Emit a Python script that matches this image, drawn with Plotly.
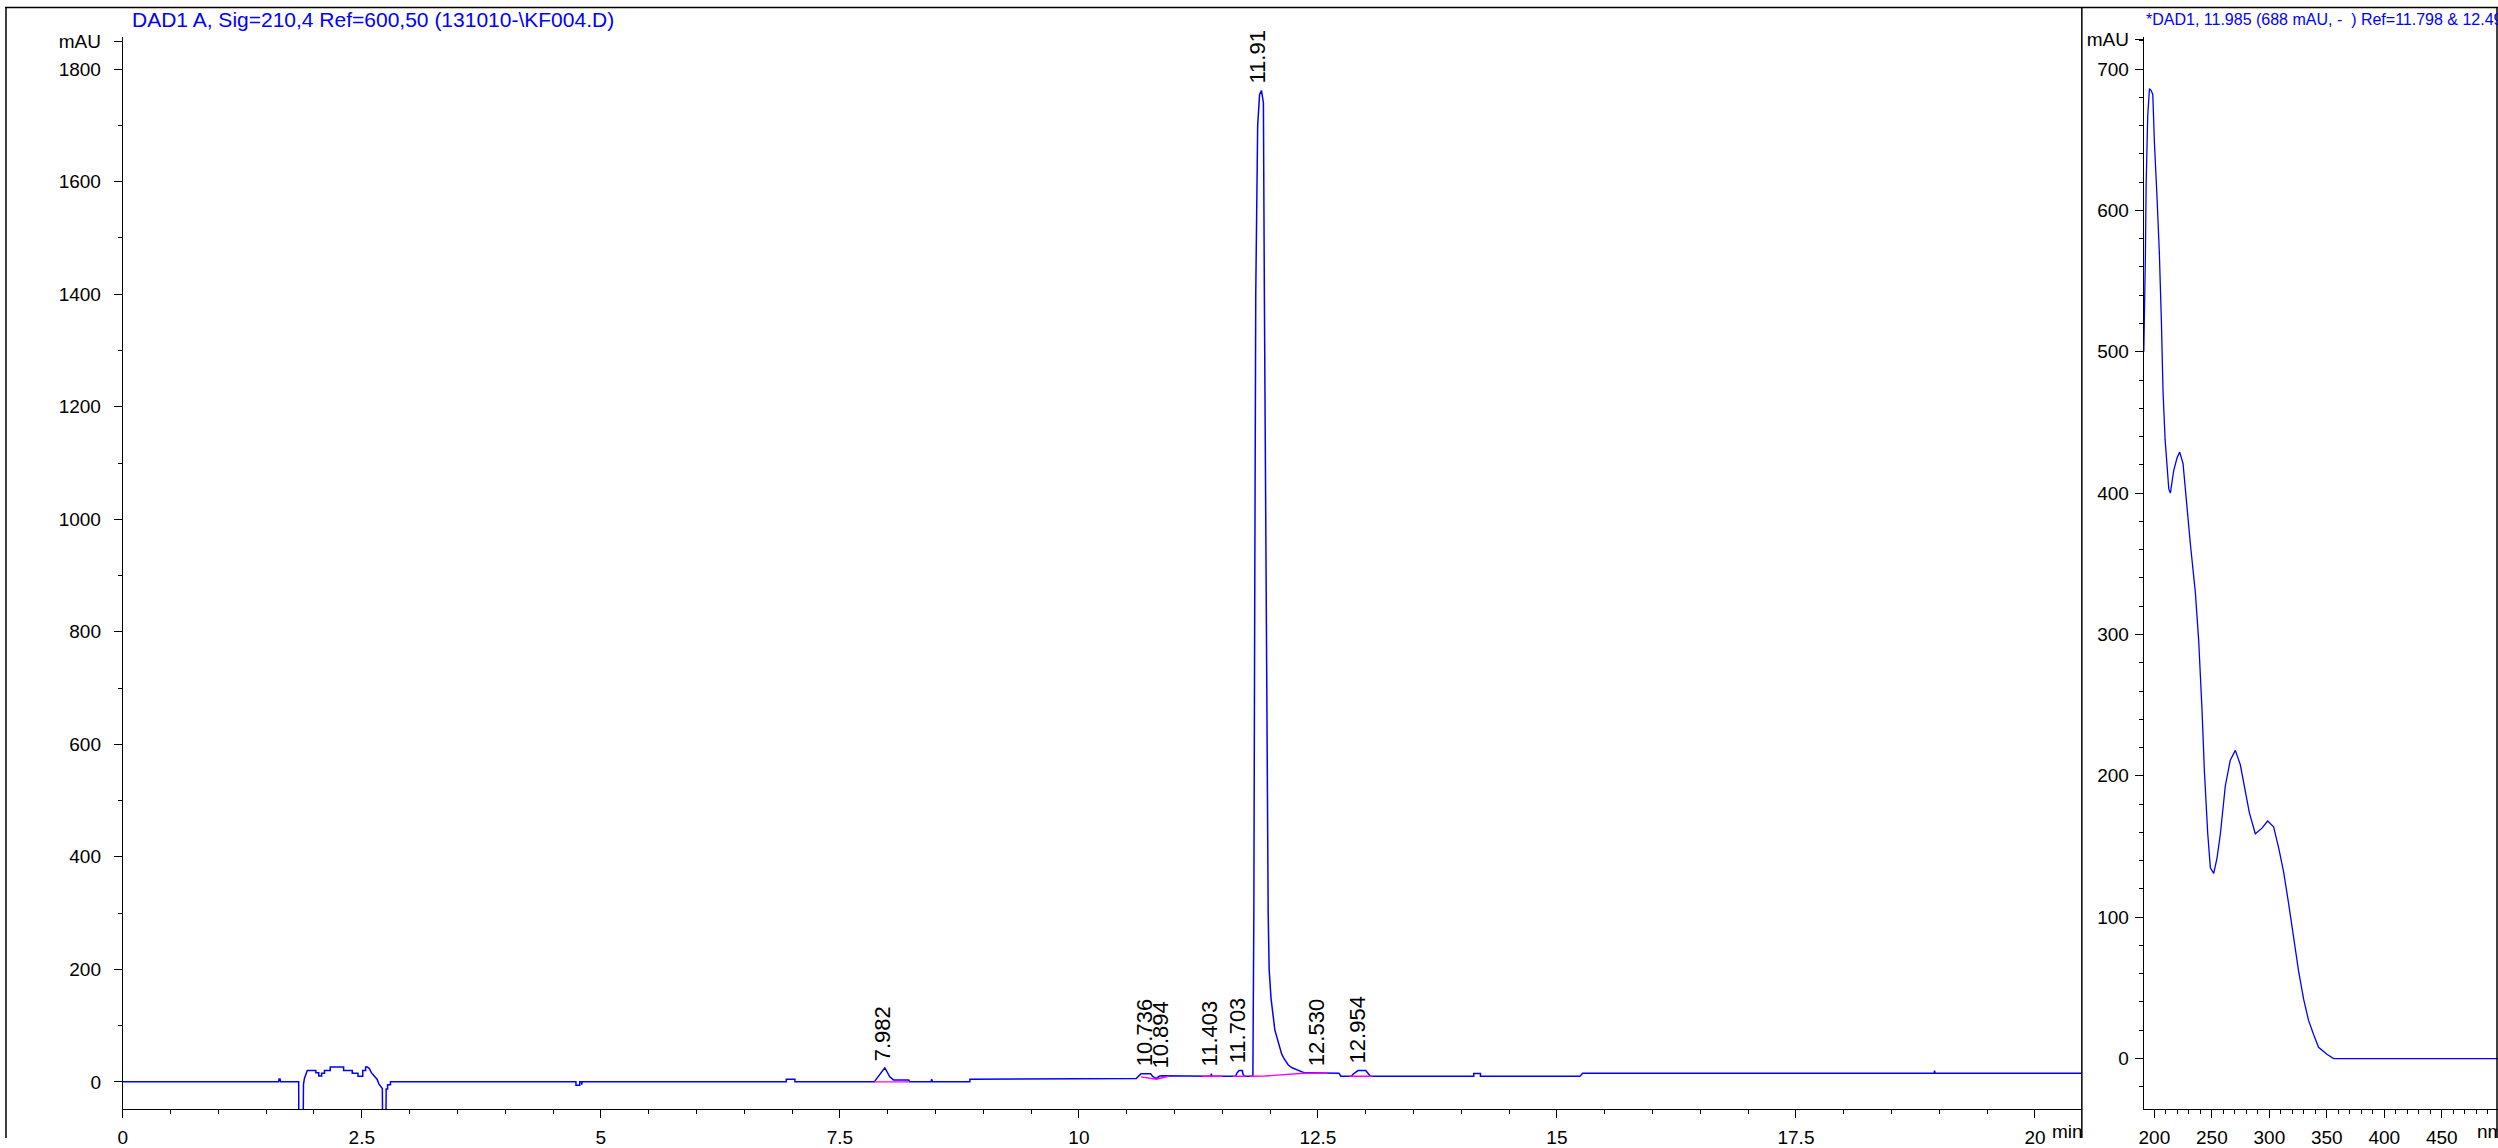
import plotly.graph_objects as go

W, H = 2498, 1148

# ---------------- data ----------------
# chromatogram (DAD1 A, 210 nm)
chrom_time = [0.00, 1.63, 1.635, 1.645, 1.65, 1.84, 1.842, 1.885, 1.89, 1.90, 1.93, 2.02, 2.02, 2.05, 2.05,
              2.08, 2.08, 2.11, 2.11, 2.17, 2.17, 2.31, 2.31, 2.40, 2.40, 2.46, 2.46, 2.51, 2.51, 2.54,
              2.54, 2.56, 2.58, 2.60, 2.63, 2.66, 2.68, 2.70, 2.715, 2.72, 2.75, 2.755, 2.77, 2.77, 2.80,
              2.80, 4.74, 4.74, 4.78, 4.78, 4.80, 4.80, 4.805, 6.94, 6.94, 7.03, 7.03, 7.86, 7.875, 7.90,
              7.94, 7.97, 7.99, 8.02, 8.06, 8.22, 8.23, 8.455, 8.46, 8.47, 8.86, 8.86, 10.60, 10.65, 10.75,
              10.77, 10.81, 10.84, 10.87, 10.92, 10.94, 11.38, 11.385, 11.39, 11.64, 11.65, 11.675, 11.71,
              11.715, 11.73, 11.82, 11.83, 11.84, 11.85, 11.87, 11.89, 11.91, 11.93, 11.94, 11.95, 11.96,
              11.97, 11.98, 11.99, 12.01, 12.05, 12.08, 12.10, 12.12, 12.14, 12.17, 12.19, 12.23, 12.30,
              12.36, 12.72, 12.74, 12.85, 12.87, 12.92, 13.00, 13.03, 13.05, 14.13, 14.13, 14.20, 14.20,
              15.24, 15.27, 18.945, 18.95, 18.955, 20.49]
chrom_mau = [0, 0, 5, 5, 0, 0, -120, -120, -5, 6, 20.4, 20.4, 16.4, 16.4, 10.5,
             10.5, 15.2, 15.2, 20.4, 20.4, 26.3, 26.3, 20.4, 20.4, 15.2, 15.2, 10, 10, 20.4, 20.4,
             26.3, 26.3, 23.4, 16.4, 10.5, 4.7, -4, -10, -12, -120, -120, -12.8, -12.8, -5.3, -5.3,
             0, 0, -5.8, -5.8, 0, 0, -5, 0, 0, 4.7, 4.7, 0, 0, 3.5, 9.3,
             19.3, 25, 19.3, 9.3, 3.5, 3.5, 0, 0, 4.7, 0, 0, 4.7, 5.8, 14.6, 14.6,
             9.9, 5.8, 9.9, 11, 11, 9.9, 9.9, 14.6, 9.9, 9.9, 14.6, 20, 20,
             14.6, 9.9, 10, 300, 900, 1400, 1700, 1755, 1762, 1740, 1400, 1130, 800,
             500, 300, 200, 148, 92, 75, 60, 50, 43, 34, 30, 25, 20,
             16, 15.5, 10, 10, 14, 20, 20, 14, 10, 10, 15, 15, 10,
             10, 15.2, 15.2, 20, 15.2, 15.2]

# integration baselines (magenta)
base_time = [7.86, 8.23, None, 10.65, 10.81, 10.94, None, 11.29, 11.50, None, 11.61, 11.74, None,
             11.79, 11.95, 12.35, 12.60, None, 12.83, 13.07]
base_mau = [0, 0, None, 8.8, 4.7, 9.9, None, 9.9, 9.9, None, 9.9, 9.9, None,
            9.9, 10.5, 15.2, 15.2, None, 9.9, 9.9]

# peak labels
peak_rt = [7.982, 10.736, 10.894, 11.403, 11.703, 11.91, 12.530, 12.954]
peak_label = ["7.982", "10.736", "10.894", "11.403", "11.703", "11.91", "12.530", "12.954"]
peak_height = [25, 15, 11, 15, 20, 1762, 16, 20]

# UV spectrum at 11.985 min
spec_nm = [190.8, 191.3, 192.2, 192.8, 194.2, 195.7, 197.1, 198.6, 200.0, 202.3, 204.3, 206.1, 207.5,
           209.3, 211.0, 212.5, 213.9, 216.8, 219.7, 222.0, 224.9, 227.8, 231.3, 235.6, 238.5, 241.4,
           243.5, 246.4, 248.7, 251.6, 254.5, 257.4, 261.7, 266.0, 270.4, 274.7, 279.1, 282.6, 287.8,
           293.6, 298.5, 303.7, 308.1, 312.4, 316.7, 321.1, 325.4, 329.8, 334.1, 338.5, 342.8, 350.1,
           355.9, 499.0]
spec_mau = [500, 520, 570, 618, 667, 686, 685, 682, 648, 609, 570, 521, 472,
            438, 418, 403, 400, 416, 425, 429, 421, 394, 364, 330, 296, 247,
            203, 159, 135, 131, 142, 159, 193, 211, 218, 208, 189, 174, 159,
            163, 168, 164, 149, 132, 110, 86, 62, 42, 27, 17, 8, 3,
            0, 0]

left_yticks = [0, 200, 400, 600, 800, 1000, 1200, 1400, 1600, 1800]
left_xticks = [0, 2.5, 5, 7.5, 10, 12.5, 15, 17.5, 20]
left_xticktext = ["0", "2.5", "5", "7.5", "10", "12.5", "15", "17.5", "20"]
right_yticks = [0, 100, 200, 300, 400, 500, 600, 700]
right_xticks = [200, 250, 300, 350, 400, 450]

title_left = "DAD1 A, Sig=210,4 Ref=600,50 (131010-\\KF004.D)"
title_right = "*DAD1, 11.985 (688 mAU, -  ) Ref=11.798 & 12.495"

# ---------------- figure ----------------
FONT = "Liberation Sans, Arial, sans-serif"
BLUE = "#0000FF"

fig = go.Figure()
fig.add_trace(go.Scatter(x=chrom_time, y=chrom_mau, mode="lines",
                         line=dict(color=BLUE, width=1.5), xaxis="x", yaxis="y",
                         hoverinfo="skip", showlegend=False))
fig.add_trace(go.Scatter(x=base_time, y=base_mau, mode="lines",
                         line=dict(color="#FF00FF", width=1.4), xaxis="x", yaxis="y",
                         connectgaps=False, hoverinfo="skip", showlegend=False))
fig.add_trace(go.Scatter(x=spec_nm, y=spec_mau, mode="lines",
                         line=dict(color=BLUE, width=1.3), xaxis="x2", yaxis="y2",
                         hoverinfo="skip", showlegend=False))

def px_x(p):
    return p / W

def px_y(p):
    return 1 - p / H

y_dom = [px_y(1119), px_y(30)]
tickfont = dict(family=FONT, size=19, color="black")
axis_common = dict(showline=True, linecolor="black", linewidth=1, showgrid=False, zeroline=False,
                   ticks="outside", tickcolor="black", tickwidth=1, ticklen=8, tickfont=tickfont)

fig.update_layout(
    width=W, height=H,
    margin=dict(l=0, r=0, t=0, b=0),
    paper_bgcolor="white", plot_bgcolor="white",
    showlegend=False,
    xaxis=dict(domain=[px_x(118), px_x(2081)], range=[0, 20.49], anchor="y",
               tickmode="array", tickvals=left_xticks, ticktext=left_xticktext,
               ticklabelstandoff=3,
               minor=dict(dtick=0.5, tick0=0, ticks="outside", ticklen=4, tickcolor="black", showgrid=False),
               **axis_common),
    yaxis=dict(domain=y_dom, range=[-49, 1858], anchor="x",
               tickmode="array", tickvals=left_yticks + [1850],
               ticktext=[str(v) for v in left_yticks] + ["mAU"],
               ticklabelstandoff=9,
               minor=dict(dtick=100, tick0=0, ticks="outside", ticklen=4, tickcolor="black", showgrid=False),
               **axis_common),
    xaxis2=dict(domain=[px_x(2143), 1.0], range=[190.7, 498.9], anchor="y2",
                tickmode="array", tickvals=right_xticks, ticktext=[str(v) for v in right_xticks],
                ticklabelstandoff=3,
                minor=dict(dtick=10, tick0=200, ticks="outside", ticklen=4, tickcolor="black", showgrid=False),
                **axis_common),
    yaxis2=dict(domain=y_dom, range=[-36, 723], anchor="x2",
                tickmode="array", tickvals=right_yticks + [721],
                ticktext=[str(v) for v in right_yticks] + ["mAU"],
                ticklabelstandoff=2,
                minor=dict(dtick=20, tick0=0, ticks="outside", ticklen=4, tickcolor="black", showgrid=False),
                **axis_common),
)

# frame and divider
line_k = dict(color="black", width=1.5)
fig.add_shape(type="line", xref="paper", yref="paper", x0=0, x1=1, y0=0.9996, y1=0.9996, line=line_k)
fig.add_shape(type="line", xref="paper", yref="paper", x0=0.0004, x1=0.0004, y0=0, y1=1, line=line_k)
fig.add_shape(type="line", xref="paper", yref="paper", x0=0.9996, x1=0.9996, y0=0, y1=1, line=line_k)
fig.add_shape(type="line", xref="paper", yref="paper", x0=px_x(2081), x1=px_x(2081), y0=0, y1=1, line=line_k)

# titles
fig.add_annotation(xref="paper", yref="paper", x=px_x(125), y=px_y(13), text=title_left,
                   showarrow=False, xanchor="left", yanchor="middle",
                   font=dict(family=FONT, size=21, color=BLUE))
fig.add_annotation(xref="paper", yref="paper", x=px_x(2143), y=px_y(13), text=title_right,
                   showarrow=False, xanchor="left", yanchor="middle",
                   font=dict(family=FONT, size=16, color=BLUE))

# axis unit labels
fig.add_annotation(xref="paper", yref="paper", x=px_x(2049), y=px_y(1141), text="min",
                   showarrow=False, xanchor="left", yanchor="middle",
                   font=dict(family=FONT, size=19, color="black"))
fig.add_annotation(xref="paper", yref="paper", x=px_x(2475), y=px_y(1141), text="nm",
                   showarrow=False, xanchor="left", yanchor="middle",
                   font=dict(family=FONT, size=19, color="black"))

# peak labels
for rt, lab, h in zip(peak_rt, peak_label, peak_height):
    fig.add_annotation(xref="x", yref="y", x=rt, y=h, text=lab, textangle=-90,
                       showarrow=False, xanchor="center", yanchor="bottom",
                       xshift=-4, yshift=5,
                       font=dict(family=FONT, size=22, color="black"))

fig.write_html("out.html", config={"displayModeBar": False},
               post_script="document.body.style.margin='0';document.body.style.overflow='hidden';")
